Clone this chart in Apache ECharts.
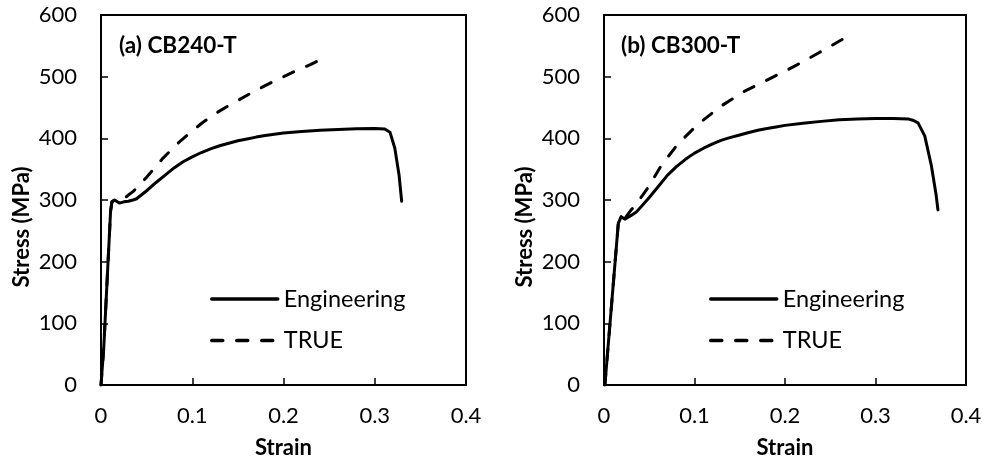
<!DOCTYPE html>
<html>
<head>
<meta charset="utf-8">
<script src="https://cdn.jsdelivr.net/npm/echarts@6/dist/echarts.min.js"></script>
<style>
html,body{margin:0;padding:0;background:#fff;}
#chart{width:987px;height:464px;}
</style>
</head>
<body>
<div id="chart"></div>
<script>
// ---- data ----
const panelTitles = ['(a) CB240-T', '(b) CB300-T'];
const legendNames = ['Engineering', 'TRUE'];
const xTicks = [0, 0.1, 0.2, 0.3, 0.4];
const yTicks = [0, 100, 200, 300, 400, 500, 600];

// Panel (a) CB240-T
const engStrainA = [0, 0.003, 0.0105, 0.012, 0.015, 0.02, 0.025, 0.03, 0.035, 0.039, 0.041, 0.05, 0.06, 0.07, 0.08, 0.09, 0.10, 0.11, 0.12, 0.13, 0.14, 0.15, 0.16, 0.17, 0.18, 0.19, 0.20, 0.22, 0.24, 0.26, 0.28, 0.30, 0.311, 0.3167, 0.322, 0.3266, 0.3295];
const engStressA = [0, 60, 282, 297, 300, 295, 297, 298, 300, 302, 301, 315, 328, 340, 352, 362, 370, 377, 383, 388, 392, 396, 399, 402, 404.5, 406.5, 408.5, 411, 413, 414.5, 415.5, 416, 415, 410, 384, 341, 298];
const trueStrainA = [0, 0.003, 0.0105, 0.012, 0.015, 0.02, 0.025, 0.03, 0.0354, 0.04, 0.05, 0.06, 0.068, 0.085, 0.10, 0.11, 0.125, 0.14, 0.165, 0.19, 0.213, 0.23, 0.245];
const trueStressA = [0, 60, 282, 297, 300, 298, 302, 308, 314, 321, 337, 354, 368, 393, 412, 424, 440, 453, 474, 493, 509, 520, 531];

// Panel (b) CB300-T
const engStrainB = [0.001, 0.0158, 0.019, 0.023, 0.03, 0.036, 0.041, 0.05, 0.06, 0.07, 0.08, 0.09, 0.10, 0.11, 0.12, 0.13, 0.14, 0.15, 0.16, 0.17, 0.18, 0.19, 0.20, 0.22, 0.24, 0.26, 0.28, 0.30, 0.32, 0.336, 0.342, 0.347, 0.3544, 0.3617, 0.367, 0.369];
const engStressB = [0, 262, 273, 269, 275, 281, 289, 304, 322, 340, 354, 366, 376, 384, 391, 397, 401.5, 405.5, 409.5, 413, 416, 418.5, 421, 424.5, 427.5, 430, 431.5, 432, 432, 431.5, 429, 425, 404, 356, 308, 284];
const trueStrainB = [0.001, 0.0158, 0.019, 0.023, 0.03, 0.034, 0.0486, 0.0633, 0.0818, 0.104, 0.1296, 0.1555, 0.185, 0.2107, 0.2365, 0.264];
const trueStressB = [0, 262, 273, 270, 284, 290, 320, 356, 391, 423, 452.5, 476.6, 498, 517, 538, 561];

// ---- build ----
const FONT = 'Lato, "Open Sans", sans-serif';
const pairs = (xs, ys) => xs.map((x, i) => [x, ys[i]]);

const grids = [
  {left: 101, top: 15, width: 365, height: 375},
  {left: 604, top: 15, width: 362, height: 373}
];

function xAxisFor(i) {
  return {
    type: 'value', gridIndex: i, min: xTicks[0], max: xTicks[xTicks.length - 1], interval: 0.1,
    name: 'Strain', nameLocation: 'middle', nameGap: 52,
    nameTextStyle: {fontFamily: FONT, fontWeight: 'bold', fontSize: 22, color: '#000'},
    axisLine: {show: true, onZero: false, lineStyle: {color: '#000', width: 2}},
    axisTick: {show: true, inside: true, length: 7, lineStyle: {color: '#000', width: 1.5}},
    axisLabel: {fontFamily: FONT, fontSize: 22, color: '#000', margin: 20},
    splitLine: {show: false}
  };
}
function yAxisFor(i) {
  return {
    type: 'value', gridIndex: i, min: yTicks[0], max: yTicks[yTicks.length - 1], interval: 100,
    name: 'Stress (MPa)', nameLocation: 'middle', nameGap: 68,
    nameTextStyle: {fontFamily: FONT, fontWeight: 'bold', fontSize: 22, color: '#000', padding: [0, 54, 0, 0]},
    axisLine: {show: true, onZero: false, lineStyle: {color: '#000', width: 2}},
    axisTick: {show: true, inside: true, length: 7, lineStyle: {color: '#000', width: 1.5}},
    axisLabel: {fontFamily: FONT, fontSize: 22, color: '#000', margin: 24},
    splitLine: {show: false}
  };
}

const solid = {color: '#000', width: 3, type: 'solid', cap: 'round', join: 'round'};
const dashed = {color: '#000', width: 3, type: [11, 14], cap: 'round', join: 'round'};

function lineSeries(name, idx, data, style, z) {
  return {
    name: name, type: 'line', xAxisIndex: idx, yAxisIndex: idx,
    data: data, showSymbol: false, symbol: 'none', smooth: false,
    lineStyle: style, itemStyle: {color: '#000'}, z: z, animation: false
  };
}

const series = [
  lineSeries(legendNames[1], 0, pairs(trueStrainA, trueStressA), dashed, 2),
  lineSeries(legendNames[0], 0, pairs(engStrainA, engStressA), solid, 3),
  lineSeries(legendNames[1], 1, pairs(trueStrainB, trueStressB), dashed, 2),
  lineSeries(legendNames[0], 1, pairs(engStrainB, engStressB), solid, 3)
];

function legendAt(left) {
  return {
    data: legendNames, orient: 'vertical', left: left, top: 287,
    itemWidth: 66, itemHeight: 14, itemGap: 17.5, padding: 0,
    selectedMode: false,
    lineStyle: {width: 3.5},
    itemStyle: {opacity: 0, color: 'transparent', borderWidth: 0},
    textStyle: {fontFamily: FONT, fontSize: 23.5, color: '#000', lineHeight: 22, padding: [0, 0, 0, 1]}
  };
}

const option = {
  backgroundColor: '#fff',
  animation: false,
  title: [
    {text: panelTitles[0], left: 119, top: 34, padding: 0,
     textStyle: {fontFamily: FONT, fontWeight: 'bold', fontSize: 22.5, color: '#000'}},
    {text: panelTitles[1], left: 621, top: 34, padding: 0,
     textStyle: {fontFamily: FONT, fontWeight: 'bold', fontSize: 22.5, color: '#000'}}
  ],
  legend: [legendAt(210), legendAt(709)],
  grid: grids.map(g => Object.assign({show: true, borderColor: '#000', borderWidth: 2, backgroundColor: 'transparent'}, g)),
  xAxis: [xAxisFor(0), xAxisFor(1)],
  yAxis: [yAxisFor(0), yAxisFor(1)],
  series: series
};

const chart = echarts.init(document.getElementById('chart'), null, {renderer: 'canvas'});
chart.setOption(option);
</script>
</body>
</html>
